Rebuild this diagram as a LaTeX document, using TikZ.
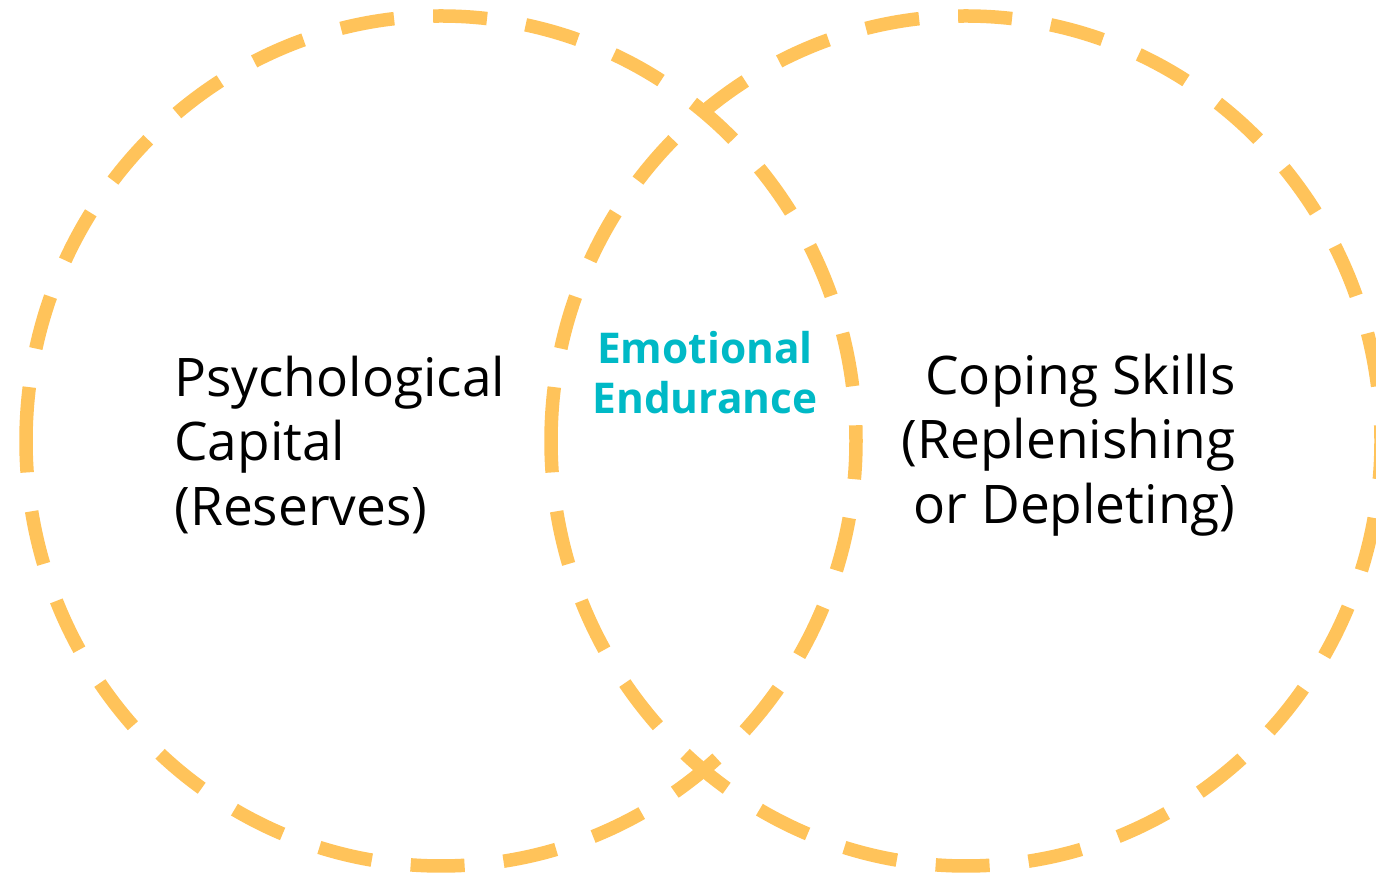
\documentclass[tikz,border=0pt]{standalone}
\usepackage{fontspec}
\setmainfont{Open Sans}
\usetikzlibrary{calc}
\definecolor{lcring}{HTML}{FFC35A}
\definecolor{lcmid}{HTML}{00B9C6}
\begin{document}
\begin{tikzpicture}[%
    x=0.5pt, y=0.5pt,           % one unit is one pixel of the sketch
    every node/.style={inner sep=0pt}]
% -------------------------------------------------
% Ring and text styles
\tikzset{
  ring/.style={draw=lcring, line width=6.75pt,
    dash pattern=on 27pt off 19.57pt},
  side/.style={font=\fontsize{26.6}{32.3}\selectfont},
  hub/.style={font=\fontsize{21.2}{25}\selectfont\bfseries, text=lcmid,
    align=center}
}
\useasboundingbox (0,0) rectangle (1376,877);
% -------------------------------------------------
% The two overlapping rings, both started at their west point
\coordinate (lc) at (441,436);
\coordinate (rc) at (966,436);
\draw [ring] ($(lc)+(-415,0)$)
  arc [start angle=180, end angle=-180, x radius=415, y radius=425];
\draw [ring] ($(rc)+(-415,0)$)
  arc [start angle=180, end angle=-180, x radius=415, y radius=425];
% -------------------------------------------------
% Labels
\node [side, align=left, anchor=west] (capital) at (174,432)
  {Psychological\\Capital\\(Reserves)};
\node [side, align=right, anchor=east] (coping) at (1236,432)
  {Coping Skills\\(Replenishing\\or Depleting)};
\node [hub] (endurance) at (705,504) {Emotional\\Endurance};
\end{tikzpicture}
\end{document}
